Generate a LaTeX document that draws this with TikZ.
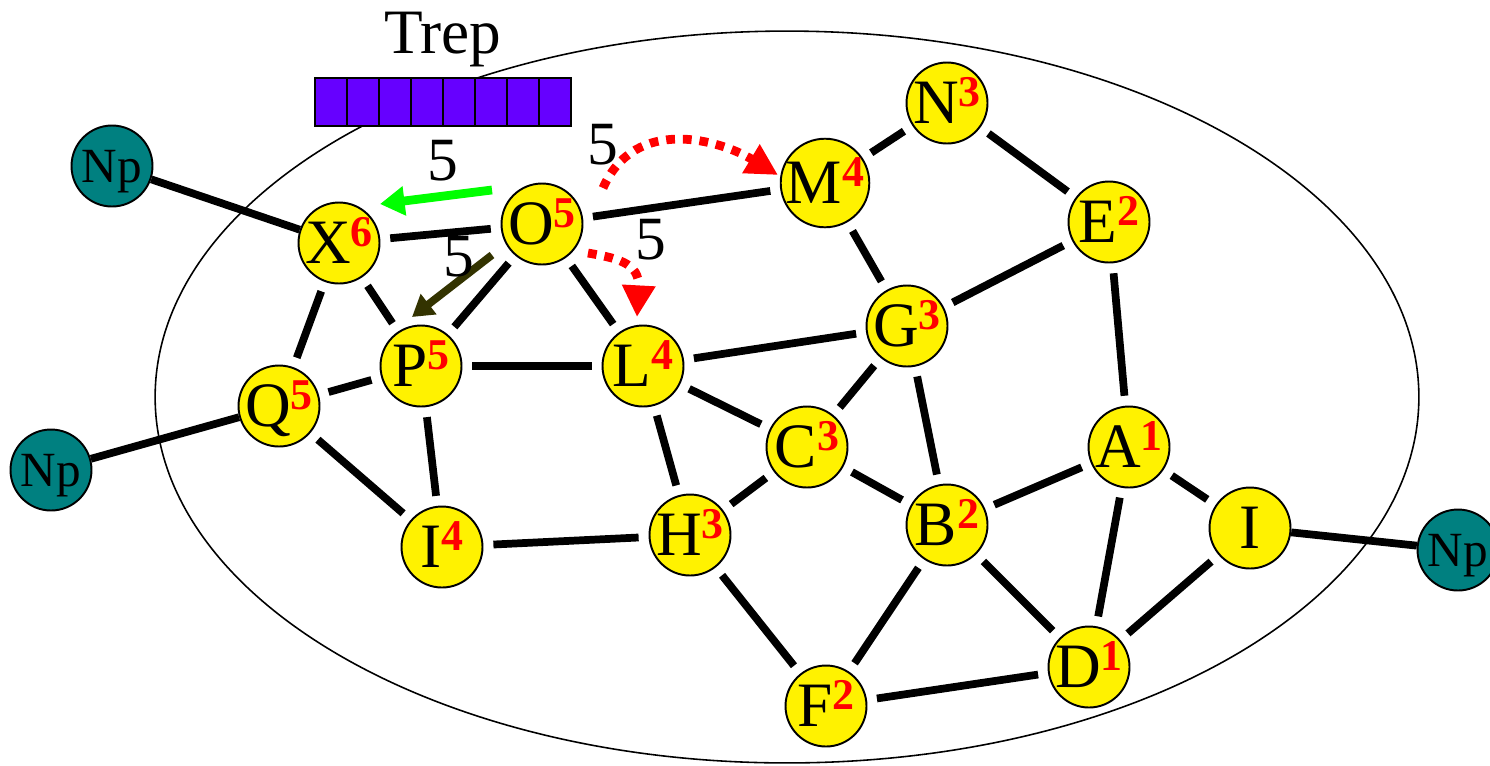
\documentclass[tikz,border=0pt]{standalone}
\usepackage{fontspec}
\setmainfont{Liberation Serif}
\usepackage{tikz}
\usetikzlibrary{arrows.meta, calc, positioning}
\definecolor{trepcolor}{HTML}{6600FF}
\definecolor{hopgreen}{HTML}{00FF00}
\definecolor{hopolive}{HTML}{333300}

\newcommand{\hopcount}[1]{\raisebox{10pt}{\fontsize{25}{25}\selectfont\bfseries\color{red}#1}}

\begin{document}
\begin{tikzpicture}[x=0.02cm, y=-0.02cm,
	vertex/.style={circle, draw=black, line width=1.1pt, fill=yellow, minimum size=1.62cm, inner sep=0pt,
		font=\fontsize{36}{36}\selectfont, text height=23.8pt, text depth=0pt},
	peer/.style={circle, draw=black, line width=1.1pt, fill=teal, minimum size=1.62cm, inner sep=0pt,
		font=\fontsize{28}{28}\selectfont, text height=18.5pt, text depth=0pt},
	link/.style={line width=4.4pt, shorten <=0.2cm, shorten >=0.2cm},
	outlink/.style={line width=4.4pt},
	weight label/.style={font=\fontsize{35}{35}\selectfont, inner sep=0pt},
	trep cell/.style={draw=black, line width=1pt, fill=trepcolor},
	red hop/.style={red, line width=5pt, dash pattern=on 5pt off 4.5pt, -{Triangle[length=18pt, width=18pt]}},
	]
	\useasboundingbox (0,0) rectangle (1490,765);
	
	% region boundary
	\draw[line width=0.9pt] (787,397) ellipse [x radius=12.64cm, y radius=7.32cm];
	
	% Trep table
	\node[font=\fontsize{36}{36}\selectfont, text height=23.8pt, text depth=0pt, inner sep=0pt] (trep) at (443,33) {Trep};
	\foreach \i in {0,...,7}
		\draw[trep cell] (315+32*\i,78) rectangle ++(32,48);
	
	% neighbour peers
	\node[peer] (np1) at (112,166) {Np};
	\node[peer] (np2) at (51,470) {Np};
	\node[peer] (np3) at (1458,550) {Np};
	
	% peers inside the region
	\node[vertex] (X) at (339,243) {X\hopcount{6}};
	\node[vertex] (O) at (542,224) {O\hopcount{5}};
	\node[vertex] (P) at (421,366) {P\hopcount{5}};
	\node[vertex] (Q) at (279,406) {Q\hopcount{5}};
	\node[vertex] (I4) at (442,547) {I\hopcount{4}};
	\node[vertex] (L) at (643,366) {L\hopcount{4}};
	\node[vertex] (M) at (825,183) {M\hopcount{4}};
	\node[vertex] (N) at (947,103) {N\hopcount{3}};
	\node[vertex] (E) at (1109,222) {E\hopcount{2}};
	\node[vertex] (G) at (907,326) {G\hopcount{3}};
	\node[vertex] (C) at (807,447) {C\hopcount{3}};
	\node[vertex] (H) at (690,535) {H\hopcount{3}};
	\node[vertex] (B) at (947,525) {B\hopcount{2}};
	\node[vertex] (A) at (1129,447) {A\hopcount{1}};
	\node[vertex] (I) at (1250,528) {I};
	\node[vertex] (D) at (1089,667) {D\hopcount{1}};
	\node[vertex] (F) at (826,706) {F\hopcount{2}};
	
	% links
	\foreach \a/\b in {np1/X, np2/Q, I/np3}
		\draw[outlink] (\a) -- (\b);
	\foreach \a/\b in {X/O, X/P, X/Q, O/M, O/P, O/L, P/L, Q/P, P/I4, Q/I4, I4/H,
		L/G, L/C, L/H, M/N, M/G, N/E, G/E, E/A, G/C, G/B, H/C, C/B, B/A,
		B/F, B/D, H/F, F/D, A/D, A/I, D/I}
		\draw[link] (\a) -- (\b);
	
	% forwarded queries
	\coordinate (g1) at (492,190);
	\coordinate (g2) at (380,204);
	\coordinate (o1) at (492,255);
	\coordinate (o2) at (412,317);
	\coordinate (r1) at (603,188);
	\coordinate (r2) at (778,175);
	\coordinate (r3) at (588,253);
	\coordinate (r4) at (637,317);
	\draw[hopgreen, line width=5pt, -{Triangle[length=14pt, width=16pt]}] (g1) -- (g2);
	\draw[hopolive, line width=4.4pt, -{Triangle[length=12pt, width=14pt]}] (o1) -- (o2);
	\draw[red hop] (r1) .. controls (635,115) and (720,140) .. (r2);
	\draw[red hop] (r3) .. controls (615,258) and (640,262) .. (r4);
	
	% hop weights
	\node[weight label] (w1) at (443,161) {5};
	\node[weight label] (w2) at (603,145) {5};
	\node[weight label] (w3) at (459,257) {5};
	\node[weight label] (w4) at (651,240) {5};
	
\end{tikzpicture}
\end{document}
